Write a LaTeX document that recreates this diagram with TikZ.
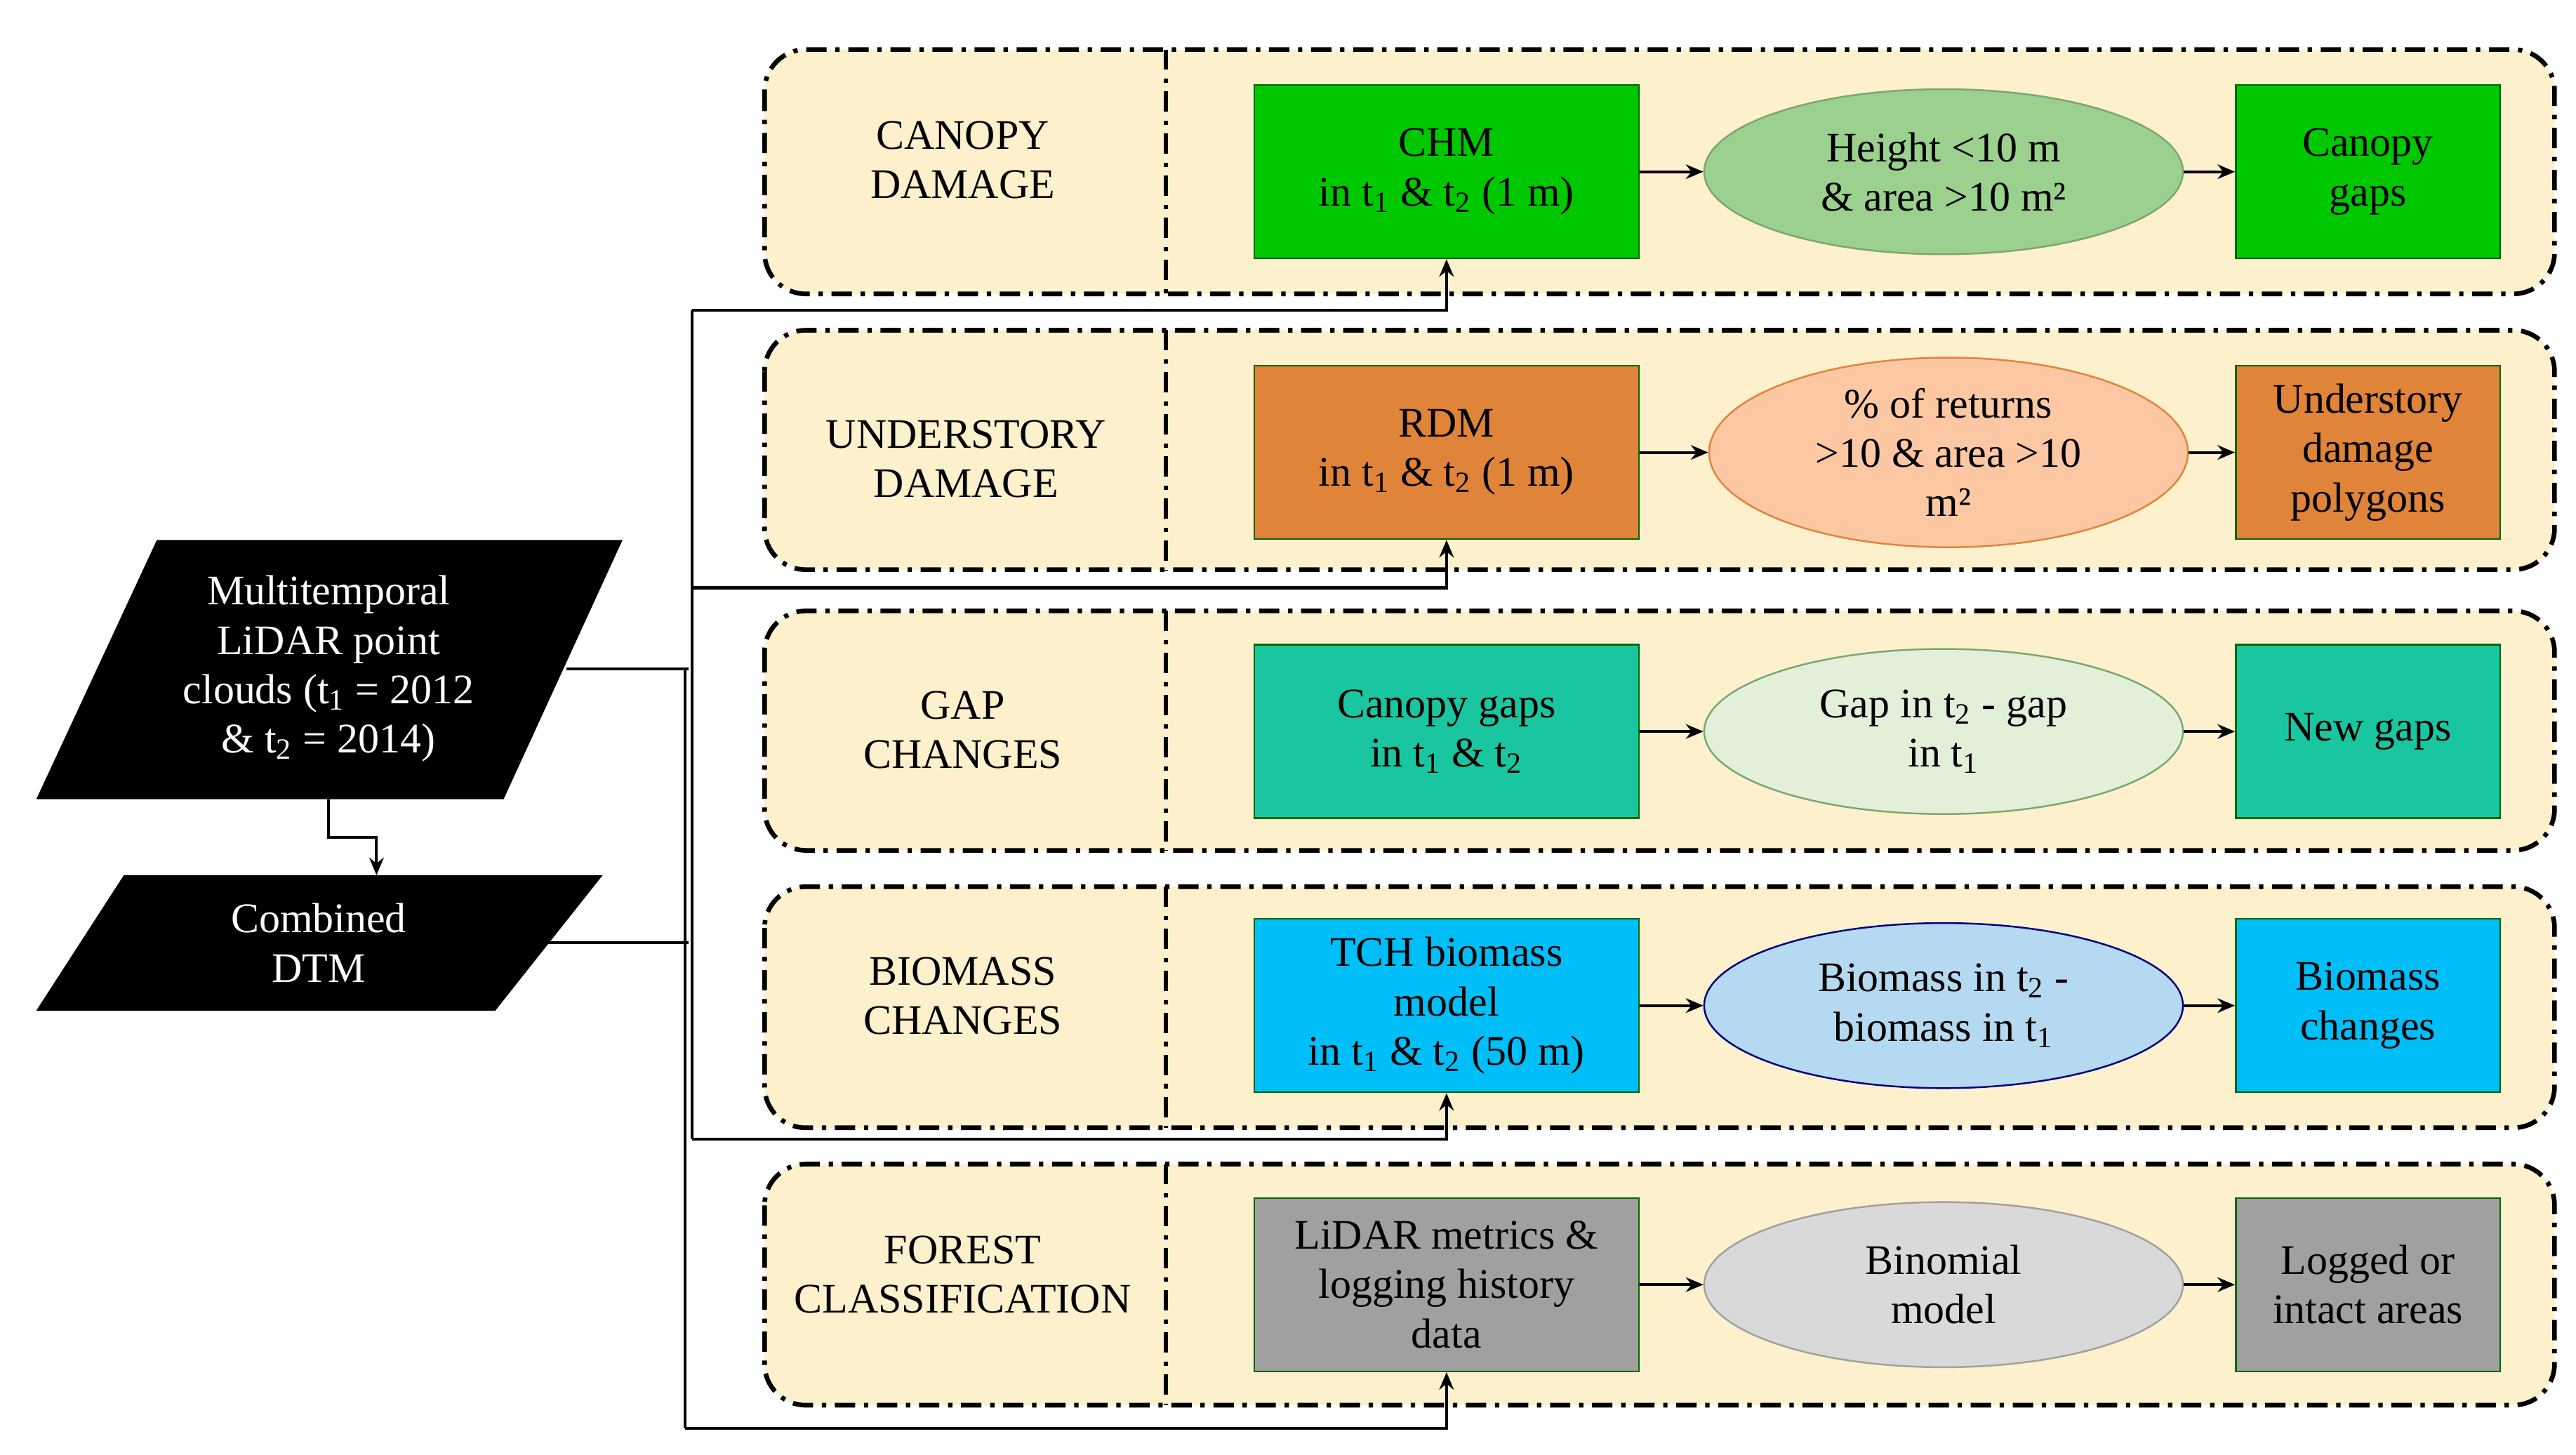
\documentclass[tikz,border=0pt]{standalone}
\usepackage{fontspec}
\setmainfont{Liberation Serif}
\usetikzlibrary{shapes.geometric,arrows.meta}
\definecolor{panel}{HTML}{FDF0CC}
\definecolor{cg}{HTML}{00C800}\definecolor{eg}{HTML}{9BD08F}
\definecolor{co}{HTML}{E0843A}\definecolor{eo}{HTML}{FCC8A4}
\definecolor{ct}{HTML}{1AC6A0}\definecolor{et}{HTML}{E2F0D9}
\definecolor{cc}{HTML}{00BFF8}\definecolor{ec}{HTML}{B4D9F0}
\definecolor{cy}{HTML}{A0A0A0}\definecolor{ey}{HTML}{D9D9D9}
\tikzset{
 every node/.style={font=\fontsize{14.5}{17}\selectfont,align=center,inner sep=1pt},
 panel/.style={draw=black,line width=1.6pt,dash pattern=on 7pt off 3pt on 1.5pt off 3pt,rounded corners=0.5cm,fill=panel},
 bl/.style={draw=black!60!green,line width=0.6pt,minimum width=4.66cm,minimum height=2.1cm},
 br/.style={draw=black!60!green,line width=0.6pt,minimum width=3.2cm,minimum height=2.1cm},
 el/.style={ellipse,line width=0.6pt,minimum width=5.8cm,minimum height=2.0cm},
 ar/.style={-{Stealth[length=6pt,width=5pt]},line width=1pt},
 cn/.style={line width=1pt}
}
\begin{document}
\begin{tikzpicture}[x=0.02cm,y=-0.02cm]
\useasboundingbox (0,0) rectangle (1560,881);
% panels
\foreach \a/\b in {30/178,200/345,370/515,537/683,705/851}{
 \draw[panel] (463,\a) rectangle (1547,\b);
 \draw[line width=1.6pt,dash pattern=on 7pt off 3pt on 1.5pt off 3pt] (706,\a) -- (706,\b);
}
\node (l1) at (583,97) {CANOPY\\DAMAGE};
\node (l2) at (585,278) {UNDERSTORY\\DAMAGE};
\node (l3) at (583,442) {GAP\\CHANGES};
\node (l4) at (583,603) {BIOMASS\\CHANGES};
\node (l5) at (583,772) {FOREST\\CLASSIFICATION};
% row 1
\node[bl,fill=cg] (a1) at (876,104) {CHM\\in t\textsubscript{1} \& t\textsubscript{2} (1 m)};
\node[el,fill=eg,draw=eg!80!black] (b1) at (1177,104) {Height <10 m\\\& area >10 m²};
\node[br,fill=cg] (c1) at (1434,104) {Canopy\\gaps};
% row 2
\node[bl,fill=co] (a2) at (876,274) {RDM\\in t\textsubscript{1} \& t\textsubscript{2} (1 m)};
\node[el,fill=eo,draw=co] (b2) at (1180,274) {\% of returns\\>10 \& area >10\\m²};
\node[br,fill=co] (c2) at (1434,274) {Understory\\damage\\polygons};
% row 3
\node[bl,fill=ct] (a3) at (876,443) {Canopy gaps\\in t\textsubscript{1} \& t\textsubscript{2}};
\node[el,fill=et,draw=eg!80!black] (b3) at (1177,443) {Gap in t\textsubscript{2} - gap\\in t\textsubscript{1}};
\node[br,fill=ct] (c3) at (1434,443) {New gaps};
% row 4
\node[bl,fill=cc] (a4) at (876,609) {TCH biomass\\model\\in t\textsubscript{1} \& t\textsubscript{2} (50 m)};
\node[el,fill=ec,draw=blue!50!black] (b4) at (1177,609) {Biomass in t\textsubscript{2} -\\biomass in t\textsubscript{1}};
\node[br,fill=cc] (c4) at (1434,609) {Biomass\\changes};
% row 5
\node[bl,fill=cy] (a5) at (876,778) {LiDAR metrics \&\\logging history\\data};
\node[el,fill=ey,draw=cy] (b5) at (1177,778) {Binomial\\model};
\node[br,fill=cy] (c5) at (1434,778) {Logged or\\intact areas};
\foreach \i in {1,...,5}{
 \draw[ar] (a\i) -- (b\i); \draw[ar] (b\i) -- (c\i);
}
% left inputs
\fill (95,327) -- (377,327) -- (305,484) -- (22,484) -- cycle;
\node[text=white] (mt) at (199,405) {Multitemporal\\LiDAR point\\clouds (t\textsubscript{1} = 2012\\\& t\textsubscript{2} = 2014)};
\fill (75,530) -- (365,530) -- (300,612) -- (22,612) -- cycle;
\node[text=white] (dtm) at (193,571) {Combined\\DTM};
\coordinate (mtb) at (199,484);
\coordinate (dtt) at (228,530);
\draw[ar] (mtb) -- (199,507) -| (dtt);
\coordinate (mtr) at (343,405);
\coordinate (dtr) at (332,571);
\draw[cn] (mtr) -- (417,405);
\draw[cn] (dtr) -- (417,571);
\draw[cn] (419,188) -- (419,690);
\draw[cn] (415,405) -- (415,865);
\draw[ar] (419,188) -| (a1.south);
\draw[ar] (419,356) -| (a2.south);
\draw[ar] (419,690) -| (a4.south);
\draw[ar] (415,865) -| (a5.south);
\end{tikzpicture}
\end{document}
